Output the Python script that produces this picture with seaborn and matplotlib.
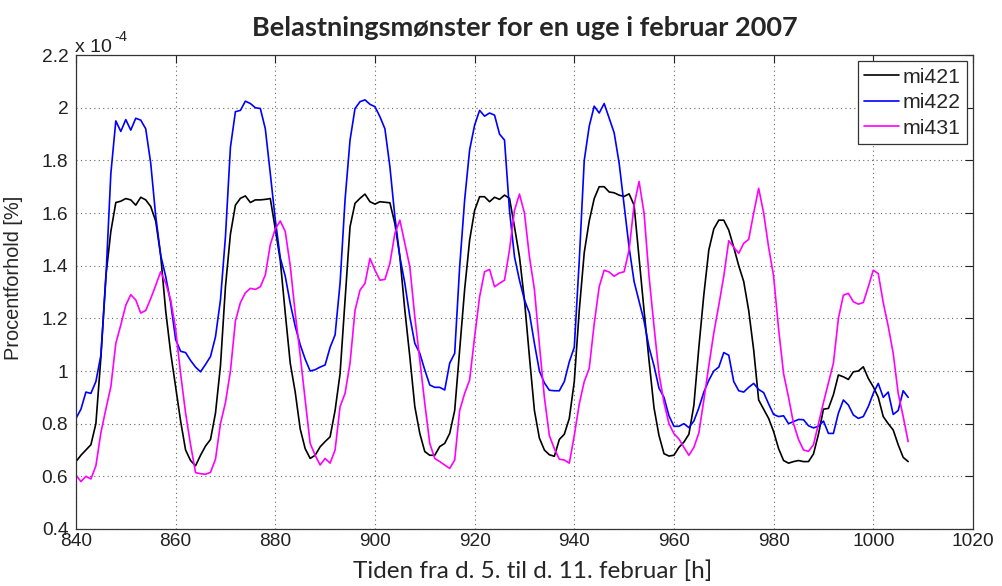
import numpy as np
import pandas as pd
import matplotlib
matplotlib.use("Agg")
import matplotlib.pyplot as plt
from matplotlib.ticker import FuncFormatter, MultipleLocator
import seaborn as sns

# Hourly load ratio (units of 1e-4 %), 5-11 February 2007
hours = list(range(840, 1008))

mi421 = [
    0.656, 0.68, 0.70, 0.72, 0.80, 1.05, 1.36,
    1.53, 1.64, 1.645, 1.655, 1.65, 1.63, 1.66, 1.65, 1.625, 1.57, 1.44, 1.23, 1.07,
    0.94, 0.81, 0.70, 0.66, 0.64, 0.68, 0.715, 0.74, 0.84, 1.02,
    1.32, 1.52, 1.63, 1.656, 1.665, 1.64, 1.65, 1.65, 1.652, 1.655,
    1.54, 1.42, 1.22, 1.03, 0.92,
    0.78, 0.705, 0.668, 0.68, 0.712,
    0.732, 0.75, 0.85, 0.99, 1.27, 1.548, 1.637, 1.656, 1.672, 1.643,
    1.634, 1.643, 1.641, 1.639, 1.56, 1.434, 1.23, 1.054, 0.865, 0.763,
    0.694, 0.68, 0.68, 0.713, 0.725, 0.763, 0.85, 1.08, 1.31, 1.497,
    1.61, 1.662, 1.662, 1.643, 1.66, 1.652, 1.668, 1.656, 1.548, 1.434,
    1.27, 1.054,
    0.85, 0.745, 0.70, 0.682, 0.676, 0.74, 0.76, 0.82,
    0.96, 1.23, 1.45, 1.57, 1.655, 1.70, 1.70, 1.68, 1.677, 1.668,
    1.663, 1.673, 1.63, 1.43, 1.23, 1.04, 0.86, 0.755, 0.686, 0.677,
    0.68, 0.71, 0.73, 0.76, 0.87, 1.09, 1.29, 1.46, 1.54, 1.573,
    1.573, 1.535, 1.47, 1.40, 1.34, 1.23, 1.08, 0.89,
    0.855, 0.82,
    0.77, 0.705, 0.66, 0.65, 0.656, 0.66, 0.656, 0.656, 0.685, 0.76,
    0.855, 0.858, 0.91, 0.985, 0.978, 0.968, 0.997, 1.0, 1.016, 0.972,
    0.94, 0.90, 0.827, 0.80, 0.776, 0.72, 0.672, 0.656,
]

mi422 = [
    0.82, 0.855, 0.92, 0.915, 0.96, 1.06, 1.35,
    1.75, 1.95, 1.91, 1.955, 1.915, 1.96, 1.953, 1.92, 1.79, 1.59, 1.44, 1.36, 1.26,
    1.12, 1.075, 1.07, 1.04, 1.015, 0.997, 1.025, 1.055, 1.13, 1.27,
    1.51, 1.85, 1.985, 1.99, 2.025, 2.016, 2.0, 1.997, 1.92, 1.75,
    1.575, 1.43, 1.36, 1.257, 1.17,
    1.10, 1.045, 1.00, 1.005, 1.015,
    1.023, 1.09, 1.137, 1.333, 1.65, 1.877, 1.997, 2.023, 2.03, 2.013,
    2.004, 1.966, 1.92, 1.776, 1.586, 1.434, 1.333, 1.206, 1.105, 1.067,
    1.004, 0.947, 0.938, 0.938, 0.928, 1.03, 1.067, 1.396, 1.65, 1.84,
    1.934, 1.99, 1.968, 1.98, 1.972, 1.90, 1.877, 1.61, 1.434, 1.345,
    1.27, 1.22,
    1.105, 1.00, 0.955, 0.927, 0.925, 0.925, 0.96, 1.035,
    1.09, 1.42, 1.80, 1.93, 2.006, 1.98, 2.016, 1.96, 1.905, 1.79,
    1.63, 1.47, 1.34, 1.265, 1.19, 1.09, 1.02, 0.935, 0.90, 0.83,
    0.79, 0.79, 0.80, 0.785, 0.81, 0.86, 0.92, 0.965, 1.0, 1.015,
    1.07, 1.06, 0.96, 0.925, 0.92, 0.938, 0.953, 0.93,
    0.918, 0.875,
    0.835, 0.827, 0.83, 0.80, 0.808, 0.816, 0.815, 0.792, 0.784, 0.79,
    0.81, 0.763, 0.763, 0.84, 0.89, 0.871, 0.833, 0.82, 0.827, 0.865,
    0.915, 0.953, 0.90, 0.92, 0.835, 0.85, 0.925, 0.90,
]

mi431 = [
    0.605, 0.58, 0.60, 0.59, 0.64, 0.765, 0.855,
    0.94, 1.105, 1.175, 1.25, 1.29, 1.27, 1.22, 1.23, 1.275, 1.325, 1.377, 1.335, 1.27,
    1.16, 0.99, 0.84, 0.72, 0.614, 0.61, 0.608, 0.615, 0.665, 0.80,
    0.88, 1.00, 1.19, 1.26, 1.297, 1.314, 1.31, 1.32, 1.365, 1.48,
    1.54, 1.57, 1.53, 1.40, 1.22,
    1.06, 0.89, 0.725, 0.68, 0.643,
    0.668, 0.65, 0.70, 0.865, 0.915, 1.03, 1.23, 1.307, 1.333, 1.428,
    1.383, 1.345, 1.348, 1.409, 1.523, 1.573, 1.484, 1.396, 1.206, 1.04,
    0.877, 0.725, 0.668, 0.656, 0.643, 0.63, 0.662, 0.85, 0.915, 0.966,
    1.13, 1.282, 1.377, 1.386, 1.32, 1.333, 1.345, 1.46, 1.61, 1.672,
    1.60, 1.434,
    1.31, 1.10, 0.90, 0.755, 0.705, 0.665, 0.662, 0.65,
    0.755, 0.875, 0.96, 1.01, 1.18, 1.32, 1.383, 1.376, 1.36, 1.372,
    1.377, 1.46, 1.63, 1.72, 1.60, 1.36, 1.17, 0.99, 0.88, 0.80,
    0.762, 0.742, 0.71, 0.68, 0.71, 0.765, 0.89, 1.02, 1.145, 1.25,
    1.36, 1.495, 1.47, 1.447, 1.485, 1.50, 1.60, 1.694,
    1.60, 1.47,
    1.36, 1.16, 0.99, 0.90, 0.80, 0.74, 0.70, 0.695, 0.72, 0.80,
    0.88, 0.955, 1.03, 1.20, 1.288, 1.295, 1.263, 1.254, 1.26, 1.32,
    1.383, 1.37, 1.26, 1.17, 1.067, 0.915, 0.827, 0.732,
]

series_names = ["mi421", "mi422", "mi431"]
series_colors = ["#000000", "#0000FF", "#FF00FF"]
scale = 1e-4

frames = []
for name, vals in zip(series_names, [mi421, mi422, mi431]):
    frames.append(pd.DataFrame({"hour": hours,
                                "ratio": np.array(vals) * scale,
                                "series": name}))
df = pd.concat(frames, ignore_index=True)

sns.set_theme(style="white")
plt.rcParams["font.family"] = ["Liberation Sans", "DejaVu Sans"]

fig = plt.figure(figsize=(10.02, 5.86), dpi=100)
ax = fig.add_axes([0.0758, 0.0973, 0.8952, 0.8087])

sns.lineplot(data=df, x="hour", y="ratio", hue="series",
             palette=dict(zip(series_names, series_colors)),
             linewidth=1.2, ax=ax, legend=True)

ax.set_xlim(840, 1020)
ax.set_ylim(0.4e-4, 2.2e-4)
ax.xaxis.set_major_locator(MultipleLocator(20))
ax.yaxis.set_major_locator(MultipleLocator(0.2e-4))
ax.yaxis.set_major_formatter(FuncFormatter(lambda v, _: f"{v / scale:g}"))

ax.grid(True, linestyle=(0, (1, 3)), color="#666666", linewidth=0.8)
ax.tick_params(direction="in", length=6, width=0.8, colors="#222222",
               labelsize=13.8, top=True, right=True)
ax.tick_params(axis="y", pad=5.5)
ax.tick_params(axis="x", pad=3)
for sp in ax.spines.values():
    sp.set_color("#333333")
    sp.set_linewidth(0.9)

label_font = ["Lato", "DejaVu Sans"]
ax.set_xlabel("Tiden fra d. 5. til d. 11. februar [h]", fontsize=17.5,
              family=label_font)
ax.xaxis.set_label_coords(0.509, -0.066)
ax.set_ylabel("Procentforhold [%]", fontsize=14.4)
ax.yaxis.set_label_coords(-0.059, 0.53)
ax.set_title("Belastningsmønster for en uge i februar 2007", fontsize=19.5,
             fontweight="bold", family=label_font, pad=14)

# Exponent of the y-axis scale, written above the top-left corner
ax.text(-0.001, 1.007, "x 10", transform=ax.transAxes, fontsize=14,
        ha="left", va="baseline", color="#222222")
ax.text(0.0425, 1.029, "-4", transform=ax.transAxes, fontsize=10.5,
        ha="left", va="baseline", color="#222222")

leg = ax.legend(loc="upper right", fontsize=15.3, frameon=True, fancybox=False,
                edgecolor="#333333", framealpha=1, handlelength=1.64,
                handletextpad=0.15, labelspacing=0.3, borderpad=0.3,
                borderaxespad=0.3, title=None)
leg.get_frame().set_linewidth(0.9)
for line in leg.get_lines():
    line.set_linewidth(1.2)

fig.savefig("out.png", dpi=100)
